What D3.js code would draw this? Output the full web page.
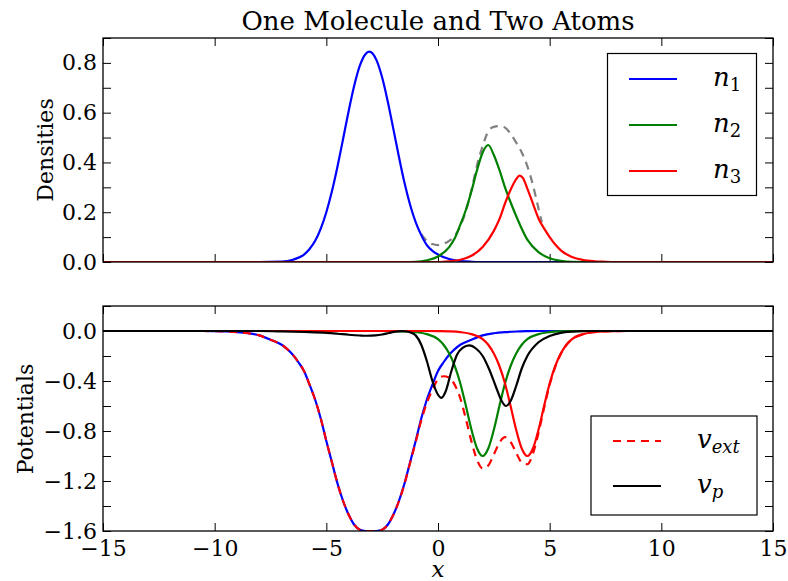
<!DOCTYPE html>
<html>
<head>
<meta charset="utf-8">
<script src="https://cdn.jsdelivr.net/npm/d3@7"></script>
<style>
  body { margin: 0; background: #fff; }
  svg { display: block; font-family: "DejaVu Serif", serif; }
  .tick text { font-family: "DejaVu Serif", serif; font-size: 22px; fill: #000; }
  .tick line { stroke: #000; stroke-width: 1; }
</style>
</head>
<body>
<div id="chart"></div>
<script>
// One Molecule and Two Atoms — densities (top) and potentials (bottom)

// ---- data: [x, value] pairs ----
const n1 = [[-15,0],[-8,0],[-7,0.002],[-6.5,0.009],[-6,0.03],[-5.75,0.052],[-5.5,0.085],[-5.25,0.134],[-5,0.2],[-4.75,0.284],[-4.5,0.384],[-4.25,0.494],[-4,0.607],[-3.75,0.709],[-3.5,0.789],[-3.25,0.835],[-3.08,0.845],[-2.75,0.81],[-2.5,0.741],[-2.25,0.645],[-2,0.535],[-1.75,0.423],[-1.5,0.318],[-1.25,0.23],[-1,0.16],[-0.75,0.108],[-0.5,0.068],[-0.25,0.045],[0,0.03],[0.5,0.012],[1,0.004],[1.5,0.001],[2,0],[15,0]];
const n2 = [[-15,0],[-1.5,0],[-1,0.001],[-0.5,0.007],[0,0.022],[0.5,0.06],[0.75,0.095],[1,0.15],[1.25,0.21],[1.5,0.285],[1.75,0.37],[2,0.44],[2.25,0.47],[2.5,0.43],[2.75,0.37],[3,0.3],[3.25,0.24],[3.5,0.185],[4,0.09],[4.5,0.04],[5,0.015],[5.5,0.005],[6,0.001],[7,0],[15,0]];
const n3 = [[-15,0],[0,0],[0.5,0.003],[1,0.009],[1.5,0.025],[2,0.06],[2.5,0.125],[2.75,0.172],[3,0.235],[3.25,0.29],[3.5,0.333],[3.65,0.347],[3.8,0.338],[4,0.295],[4.25,0.235],[4.5,0.175],[4.75,0.135],[5,0.1],[5.25,0.07],[5.5,0.047],[6,0.02],[6.5,0.008],[7,0.003],[7.5,0.001],[8,0],[15,0]];
const nTotal = [[-0.75,0.112],[-0.5,0.085],[-0.25,0.072],[0,0.068],[0.25,0.073],[0.5,0.085],[0.75,0.105],[1,0.145],[1.25,0.205],[1.5,0.29],[1.75,0.39],[2,0.466],[2.25,0.525],[2.5,0.543],[2.75,0.546],[3,0.54],[3.25,0.515],[3.5,0.48],[3.75,0.44],[4,0.385],[4.25,0.31],[4.5,0.215],[4.65,0.16]];

const v1 = [[-15,0],[-10.5,0],[-10,-0.0015],[-9.5,-0.004],[-9,-0.009],[-8.5,-0.018],[-8,-0.035],[-7.5,-0.07],[-7,-0.11],[-6.75,-0.145],[-6.5,-0.19],[-6.25,-0.25],[-6,-0.32],[-5.75,-0.43],[-5.5,-0.55],[-5.25,-0.7],[-5,-0.88],[-4.75,-1.05],[-4.5,-1.22],[-4.25,-1.36],[-4,-1.47],[-3.75,-1.55],[-3.5,-1.59],[-3.25,-1.6],[-3,-1.6],[-2.75,-1.6],[-2.5,-1.59],[-2.25,-1.55],[-2,-1.47],[-1.75,-1.36],[-1.5,-1.22],[-1.25,-1.05],[-1,-0.88],[-0.75,-0.7],[-0.5,-0.55],[-0.25,-0.43],[0,-0.32],[0.25,-0.25],[0.5,-0.19],[0.75,-0.145],[1,-0.11],[1.5,-0.07],[2,-0.035],[2.5,-0.018],[3,-0.009],[3.5,-0.004],[4,-0.0015],[4.5,0],[15,0]];
const v2 = [[-15,0],[-2.5,0],[-2,-0.001],[-1.5,-0.003],[-1,-0.009],[-0.5,-0.025],[0,-0.065],[0.25,-0.11],[0.5,-0.18],[0.75,-0.28],[1,-0.42],[1.25,-0.6],[1.5,-0.79],[1.75,-0.94],[2,-1.0],[2.25,-0.94],[2.5,-0.79],[2.75,-0.6],[3,-0.42],[3.25,-0.28],[3.5,-0.18],[3.75,-0.11],[4,-0.065],[4.5,-0.025],[5,-0.009],[5.5,-0.003],[6,-0.001],[6.5,0],[15,0]];
const v3 = [[-15,0],[-0.5,0],[0,-0.001],[0.5,-0.003],[1,-0.009],[1.5,-0.025],[2,-0.065],[2.25,-0.11],[2.5,-0.18],[2.75,-0.28],[3,-0.42],[3.25,-0.6],[3.5,-0.79],[3.75,-0.94],[4,-1.0],[4.25,-0.94],[4.5,-0.79],[4.75,-0.6],[5,-0.42],[5.25,-0.28],[5.5,-0.18],[5.75,-0.11],[6,-0.065],[6.5,-0.025],[7,-0.009],[7.5,-0.003],[8,-0.001],[8.5,0],[15,0]];
const vExt = [[-15,0],[-10.5,0],[-10,-0.0015],[-9.5,-0.004],[-9,-0.009],[-8.5,-0.018],[-8,-0.035],[-7.5,-0.07],[-7,-0.11],[-6.75,-0.145],[-6.5,-0.19],[-6.25,-0.25],[-6,-0.32],[-5.75,-0.43],[-5.5,-0.55],[-5.25,-0.7],[-5,-0.88],[-4.75,-1.05],[-4.5,-1.22],[-4.25,-1.36],[-4,-1.47],[-3.75,-1.55],[-3.5,-1.59],[-3.25,-1.6],[-3,-1.6],[-2.75,-1.6],[-2.5,-1.59],[-2.25,-1.55],[-2,-1.47],[-1.75,-1.362],[-1.5,-1.223],[-1.25,-1.056],[-1,-0.889],[-0.75,-0.716],[-0.5,-0.575],[-0.25,-0.472],[0,-0.386],[0.25,-0.362],[0.5,-0.373],[0.75,-0.431],[1,-0.539],[1.25,-0.705],[1.5,-0.885],[1.75,-1.032],[2,-1.1],[2.25,-1.076],[2.5,-0.988],[2.75,-0.893],[3,-0.849],[3.25,-0.886],[3.5,-0.974],[3.75,-1.052],[4,-1.066],[4.25,-0.982],[4.5,-0.815],[4.75,-0.616],[5,-0.429],[5.25,-0.286],[5.5,-0.183],[5.75,-0.112],[6,-0.066],[6.5,-0.025],[7,-0.009],[7.5,-0.003],[8,-0.001],[8.5,0],[15,0]];
const vp = [[-15,0],[-8,0],[-7,-0.003],[-6,-0.008],[-5,-0.015],[-4.5,-0.022],[-4,-0.03],[-3.5,-0.036],[-3.2,-0.038],[-2.8,-0.035],[-2.5,-0.028],[-2.2,-0.016],[-1.9,-0.005],[-1.6,-0.001],[-1.4,-0.004],[-1.2,-0.014],[-1,-0.035],[-0.75,-0.11],[-0.5,-0.24],[-0.25,-0.4],[0,-0.51],[0.15,-0.535],[0.35,-0.48],[0.6,-0.32],[0.85,-0.19],[1.1,-0.135],[1.4,-0.115],[1.7,-0.14],[2,-0.2],[2.3,-0.31],[2.6,-0.45],[2.85,-0.56],[3.05,-0.6],[3.25,-0.56],[3.5,-0.44],[3.75,-0.3],[4,-0.2],[4.5,-0.09],[5,-0.04],[5.5,-0.015],[6,-0.005],[6.5,-0.001],[7,0],[15,0]];

// ---- ticks ----
const xTicks = [-15, -10, -5, 0, 5, 10, 15];
const xLabels = ["−15", "−10", "−5", "0", "5", "10", "15"];
const topYTicks = [0, 0.1, 0.2, 0.3, 0.4, 0.5, 0.6, 0.7, 0.8, 0.9];
const topYLabels = ["0.0", "", "0.2", "", "0.4", "", "0.6", "", "0.8", ""];
const botYTicks = [-1.6, -1.4, -1.2, -1.0, -0.8, -0.6, -0.4, -0.2, 0, 0.2];
const botYLabels = ["−1.6", "", "−1.2", "", "−0.8", "", "−0.4", "", "0.0", ""];

const width = 788, height = 581;
const left = 103, right = 773;

const svg = d3.select("#chart").append("svg")
  .attr("width", width)
  .attr("height", height);

const x = d3.scaleLinear().domain([-15, 15]).range([left, right]);
const yTop = d3.scaleLinear().domain([0, 0.9]).range([262, 38]);
const yBot = d3.scaleLinear().domain([-1.6, 0.2]).range([531, 306]);

const defs = svg.append("defs");
[["clip-top", yTop], ["clip-bot", yBot]].forEach(([id, y]) => {
  const [y1, y0] = y.range();
  defs.append("clipPath").attr("id", id)
    .append("rect")
    .attr("x", left).attr("y", y0)
    .attr("width", right - left).attr("height", y1 - y0);
});

function drawAxes(y, yTicks, yLabels, showXLabels) {
  const [y1, y0] = y.range();
  const g = svg.append("g");

  g.append("g").attr("transform", `translate(${left},0)`)
    .call(d3.axisLeft(y).tickValues(yTicks).tickSize(-8).tickPadding(6)
      .tickFormat(d => yLabels[yTicks.indexOf(d)]))
    .call(s => s.select(".domain").remove());

  g.append("g").attr("transform", `translate(${right},0)`)
    .call(d3.axisRight(y).tickValues(yTicks).tickSize(-8).tickFormat(""))
    .call(s => s.select(".domain").remove());

  g.append("g").attr("transform", `translate(0,${y0})`)
    .call(d3.axisTop(x).tickValues(xTicks).tickSize(-8).tickFormat(""))
    .call(s => s.select(".domain").remove());

  g.append("g").attr("transform", `translate(0,${y1})`)
    .call(d3.axisBottom(x).tickValues(xTicks).tickSize(-8).tickPadding(9)
      .tickFormat(d => showXLabels ? xLabels[xTicks.indexOf(d)] : ""))
    .call(s => s.select(".domain").remove());
}

function drawLines(y, clipId, series) {
  const line = d3.line()
    .x(d => x(d[0]))
    .y(d => y(d[1]))
    .curve(d3.curveMonotoneX);
  const g = svg.append("g").attr("clip-path", `url(#${clipId})`);
  series.forEach(s => {
    g.append("path")
      .attr("d", line(s.data))
      .attr("fill", "none")
      .attr("stroke", s.color)
      .attr("stroke-width", 2.2)
      .attr("stroke-dasharray", s.dash || null)
      .attr("stroke-linejoin", "round");
  });
}

function drawFrame(y) {
  const [y1, y0] = y.range();
  svg.append("rect")
    .attr("x", left).attr("y", y0)
    .attr("width", right - left).attr("height", y1 - y0)
    .attr("fill", "none")
    .attr("stroke", "#000")
    .attr("stroke-width", 1.3);
}

// top panel
drawAxes(yTop, topYTicks, topYLabels, false);
drawLines(yTop, "clip-top", [
  { data: nTotal, color: "#808080", dash: "8,6" },
  { data: n1, color: "#0000ff" },
  { data: n2, color: "#008000" },
  { data: n3, color: "#ff0000" }
]);
drawFrame(yTop);

// bottom panel
drawAxes(yBot, botYTicks, botYLabels, true);
drawLines(yBot, "clip-bot", [
  { data: v1, color: "#0000ff" },
  { data: v2, color: "#008000" },
  { data: v3, color: "#ff0000" },
  { data: vExt, color: "#ff0000", dash: "8,6" },
  { data: vp, color: "#000000" }
]);
drawFrame(yBot);

// title and axis labels
svg.append("text")
  .attr("x", (left + right) / 2).attr("y", 30)
  .attr("text-anchor", "middle")
  .style("font-size", "26px")
  .text("One Molecule and Two Atoms");

svg.append("text")
  .attr("transform", `translate(53,150) rotate(-90)`)
  .attr("text-anchor", "middle")
  .style("font-size", "22px")
  .text("Densities");

svg.append("text")
  .attr("transform", `translate(33,419) rotate(-90)`)
  .attr("text-anchor", "middle")
  .style("font-size", "22px")
  .text("Potentials");

svg.append("text")
  .attr("x", x(0)).attr("y", 577)
  .attr("text-anchor", "middle")
  .style("font-size", "23px")
  .style("font-style", "italic")
  .text("x");

// legends
function legend(box, entries) {
  const g = svg.append("g");
  g.append("rect")
    .attr("x", box.x).attr("y", box.y)
    .attr("width", box.w).attr("height", box.h)
    .attr("fill", "#fff")
    .attr("stroke", "#000")
    .attr("stroke-width", 1.2);
  entries.forEach((e, i) => {
    const ly = box.first + i * box.step;
    g.append("line")
      .attr("x1", box.lx1).attr("x2", box.lx2)
      .attr("y1", ly).attr("y2", ly)
      .attr("stroke", e.color)
      .attr("stroke-width", 2.2)
      .attr("stroke-dasharray", e.dash || null);
    const t = g.append("text")
      .attr("x", box.tx).attr("y", ly + 7)
      .style("font-size", "26px");
    t.append("tspan").style("font-style", "italic").text(e.main);
    t.append("tspan")
      .attr("dy", 5)
      .style("font-size", "18px")
      .style("font-style", e.subItalic ? "italic" : "normal")
      .text(e.sub);
  });
}

legend({ x: 607.5, y: 53.5, w: 149, h: 142, first: 79, step: 46, lx1: 629, lx2: 677, tx: 713 }, [
  { color: "#0000ff", main: "n", sub: "1" },
  { color: "#008000", main: "n", sub: "2" },
  { color: "#ff0000", main: "n", sub: "3" }
]);

legend({ x: 591, y: 416, w: 166, h: 99, first: 441, step: 45, lx1: 613, lx2: 661, tx: 697 }, [
  { color: "#ff0000", dash: "8,6", main: "v", sub: "ext", subItalic: true },
  { color: "#000000", main: "v", sub: "p", subItalic: true }
]);
</script>
</body>
</html>
